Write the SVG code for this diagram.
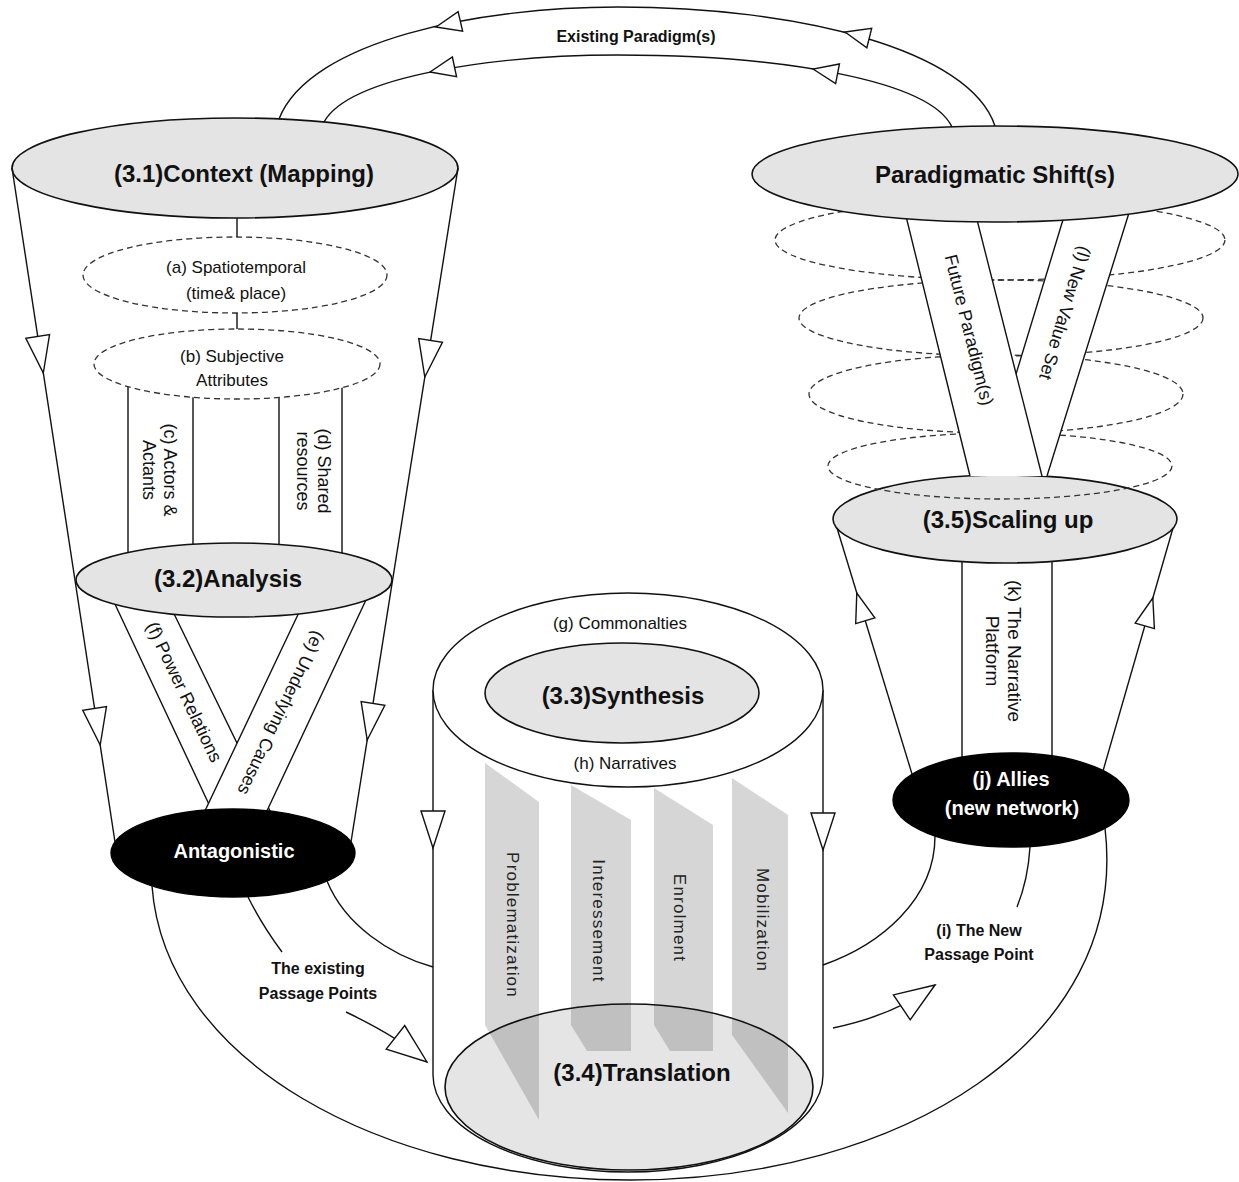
<svg xmlns="http://www.w3.org/2000/svg" width="1239" height="1182" viewBox="0 0 1239 1182">
<defs>
<style>
.ln{fill:none;stroke:#111;stroke-width:1.4}
.ah{fill:#fff;stroke:#111;stroke-width:1.4;stroke-linejoin:miter}
.gray{fill:#e4e4e4;stroke:#111;stroke-width:1.6}
.blk{fill:#000;stroke:#000;stroke-width:1.4}
.wf{fill:#fff;stroke:none}
.wht{fill:#fff;stroke:#111;stroke-width:1.4}
.dash{fill:none;stroke:#333;stroke-width:1.3;stroke-dasharray:6 4}
.dashw{fill:#fff;stroke:#333;stroke-width:1.3;stroke-dasharray:6 4}
.band{fill:#999;fill-opacity:.4;stroke:none}
text{font-family:"Liberation Sans",Arial,sans-serif;fill:#111}
.big{font-size:24px;font-weight:bold;text-anchor:middle;dominant-baseline:central}
.lbl{font-size:17px;text-anchor:middle;dominant-baseline:central}
.rot{font-size:18px;text-anchor:middle;dominant-baseline:central}
.mom{font-size:17px;letter-spacing:1.2px;text-anchor:middle;dominant-baseline:central;fill:#222}
.bl{font-size:16px;font-weight:bold;text-anchor:middle;dominant-baseline:central}
.wt{font-size:20px;font-weight:bold;fill:#fff;text-anchor:middle;dominant-baseline:central}
</style>
<path id="ahS" class="ah" d="M0,0 L-25,-10 L-25,10 Z"/>
<path id="ahM" class="ah" d="M0,0 L-29,-10 L-29,10 Z"/>
<path id="ahL" class="ah" d="M0,0 L-37,-12 L-37,12 Z"/>
<path id="ahX" class="ah" d="M0,0 L-40,-15 L-40,15 Z"/>
</defs>
<rect width="1239" height="1182" fill="#fff"/>

<!-- ===== Left funnel nodes ===== -->
<g id="context">
<ellipse class="gray" cx="235" cy="168" rx="223" ry="50"/>
<text class="big" x="244" y="173">(3.1)Context (Mapping)</text>
</g>
<g id="spatiotemporal">
<ellipse class="dashw" cx="235" cy="275" rx="152" ry="38"/>
<text class="lbl" x="236" y="267">(a) Spatiotemporal</text>
<text class="lbl" x="236" y="293">(time&amp; place)</text>
</g>
<g id="actors">
<path class="ln" d="M128,380 V570 M193,380 V570"/>
<text class="rot" transform="translate(159,470) rotate(90)"><tspan x="0" dy="-10.5">(c) Actors &amp;</tspan><tspan x="0" dy="21">Actants</tspan></text>
</g>
<g id="resources">
<path class="ln" d="M279,380 V570 M342,380 V570"/>
<text class="rot" transform="translate(313,471) rotate(90)"><tspan x="0" dy="-10.5">(d) Shared</tspan><tspan x="0" dy="21">resources</tspan></text>
</g>
<g id="subjective">
<ellipse class="dashw" cx="237" cy="364" rx="143" ry="35"/>
<text class="lbl" x="232" y="356">(b) Subjective</text>
<text class="lbl" x="232" y="380">Attributes</text>
</g>
<g id="power-relations">
<polygon class="wf" points="106,585 160,585 272,815 214,815"/>
<path class="ln" d="M106,585 L214,815 M160,585 L272,815"/>
<text class="rot" transform="translate(184,692) rotate(64.5)">(f) Power Relations</text>
</g>
<g id="underlying-causes">
<polygon class="wf" points="312,585 373,585 265,815 203,815"/>
<path class="ln" d="M312,585 L203,815 M373,585 L265,815"/>
<text class="rot" transform="translate(281,713) rotate(115.5)">(e) Underlying Causes</text>
</g>
<g id="analysis">
<ellipse class="gray" cx="234" cy="580" rx="158" ry="37"/>
<text class="big" x="228" y="578">(3.2)Analysis</text>
</g>
<g id="antagonistic">
<ellipse class="blk" cx="233" cy="853" rx="122" ry="44"/>
<text class="wt" x="234" y="851">Antagonistic</text>
</g>

<!-- ===== Cylinder ===== -->
<g id="cylinder">
<path class="ln" d="M433,690 L433,1075 A195,97 0 0 0 823,1075 L823,690"/>
</g>
<g id="commonalties">
<ellipse class="wht" cx="628" cy="690" rx="195" ry="97"/>
<text class="lbl" x="620" y="623">(g) Commonalties</text>
<text class="lbl" x="625" y="763">(h) Narratives</text>
</g>
<g id="synthesis">
<ellipse class="gray" cx="622" cy="693" rx="137" ry="50"/>
<text class="big" x="623" y="695">(3.3)Synthesis</text>
</g>
<g id="moments">
<polygon class="band" points="485,763 539,802 539,1120 485,1025"/>
<polygon class="band" points="571,785 631,820 631,1051 587,1051 571,1025"/>
<polygon class="band" points="654,788 713,825 713,1051 670,1051 654,1025"/>
<polygon class="band" points="732,778 788,815 788,1113 732,1035"/>
<text class="mom" transform="translate(512,925) rotate(90)">Problematization</text>
<text class="mom" transform="translate(598,921) rotate(90)">Interessement</text>
<text class="mom" transform="translate(679,918) rotate(90)">Enrolment</text>
<text class="mom" transform="translate(762,920) rotate(90)">Mobilization</text>
</g>
<g id="translation">
<ellipse cx="629" cy="1087" rx="184" ry="83" fill="#000" fill-opacity=".1" stroke="#111" stroke-width="1.6"/>
<text class="big" x="642" y="1072">(3.4)Translation</text>
</g>

<!-- ===== Right funnel ===== -->
<g id="narrative-platform">
<path class="ln" d="M962,555 V765 M1052,555 V765"/>
<text class="rot" font-size="19" transform="translate(1004,651) rotate(90)"><tspan x="0" dy="-11" font-size="19">(k) The Narrative</tspan><tspan x="0" dy="22" font-size="19">Platform</tspan></text>
</g>
<g id="scaling-up">
<ellipse class="gray" cx="1005" cy="519" rx="172" ry="44"/>
<text class="big" x="1008" y="519">(3.5)Scaling up</text>
</g>
<g id="paradigm-layers">
<ellipse class="dash" cx="1000" cy="240" rx="225" ry="40"/>
<ellipse class="dash" cx="1001" cy="318" rx="202" ry="38"/>
<ellipse class="dash" cx="996" cy="394" rx="187" ry="39"/>
<ellipse class="dash" cx="1000" cy="466" rx="172" ry="33"/>
</g>
<g id="new-value-set">
<polygon class="wf" points="1069,200 1133,200 1047,476 985,476"/>
<path class="ln" d="M1069,200 L985,476 M1133,200 L1047,476"/>
<text class="rot" transform="translate(1065,313) rotate(107)">(l) New Value Set</text>
</g>
<g id="future-paradigm">
<polygon class="wf" points="902,200 972,200 1042,476 970,476"/>
<path class="ln" d="M902,200 L970,476 M972,200 L1042,476"/>
<text class="rot" transform="translate(969,330) rotate(76)">Future Paradigm(s)</text>
</g>
<g id="paradigmatic-shift">
<ellipse class="gray" cx="995" cy="174" rx="243" ry="48"/>
<text class="big" x="995" y="174">Paradigmatic Shift(s)</text>
</g>
<g id="allies">
<ellipse class="blk" cx="1011" cy="800" rx="118" ry="47"/>
<text class="wt" x="1011" y="779">(j) Allies</text>
<text class="wt" x="1012" y="808">(new network)</text>
</g>

<!-- ===== Connectors ===== -->
<g id="connectors">
<path class="ln" d="M995,126 C970,50 800,7 618,7 C480,7 310,40 279,119"/>
<path class="ln" d="M952,127 C930,80 780,55 618,55 C500,55 350,75 324,122"/>
<text class="bl" x="636" y="36">Existing Paradigm(s)</text>
<path class="ln" d="M12,168 L115,842"/>
<path class="ln" d="M458,168 L351,842"/>
<path class="ln" d="M237,218 V237 M237,313 V329"/>
<path class="ln" d="M837,528 L912,774"/>
<path class="ln" d="M1173,528 L1103,771"/>
<path class="ln" d="M152,886 C165,1060 380,1180 630,1180 C900,1180 1130,1040 1105,828"/>
<path class="ln" d="M327,881 C345,925 390,955 433,967"/>
<path class="ln" d="M248,897 Q262,925 282,952"/>
<text class="bl" x="318" y="968">The existing</text>
<text class="bl" x="318" y="993">Passage Points</text>
<path class="ln" d="M346,1012 Q400,1038 427,1062"/>
<path class="ln" d="M823,965 C880,945 935,900 935,836"/>
<path class="ln" d="M1030,847 Q1028,880 1017,907"/>
<text class="bl" x="979" y="930">(i) The New</text>
<text class="bl" x="979" y="954">Passage Point</text>
<path class="ln" d="M833,1028 Q895,1015 935,985"/>
<use href="#ahS" transform="translate(845,32) rotate(-166)"/>
<use href="#ahS" transform="translate(436,27) rotate(167)"/>
<use href="#ahS" transform="translate(813,69) rotate(-169)"/>
<use href="#ahS" transform="translate(430,72) rotate(168)"/>
<use href="#ahL" transform="translate(43.3,373) rotate(81.3)"/>
<use href="#ahL" transform="translate(100.2,745) rotate(81.3)"/>
<use href="#ahL" transform="translate(424.8,377) rotate(99)"/>
<use href="#ahL" transform="translate(367.2,740) rotate(99)"/>
<use href="#ahL" transform="translate(433,848) rotate(90)"/>
<use href="#ahL" transform="translate(823,850) rotate(90)"/>
<use href="#ahM" transform="translate(856.8,593) rotate(-107)"/>
<use href="#ahM" transform="translate(1152.8,598) rotate(-74)"/>
<use href="#ahX" transform="translate(427,1062) rotate(38)"/>
<use href="#ahX" transform="translate(935,985) rotate(-34)"/>
</g>
</svg>
